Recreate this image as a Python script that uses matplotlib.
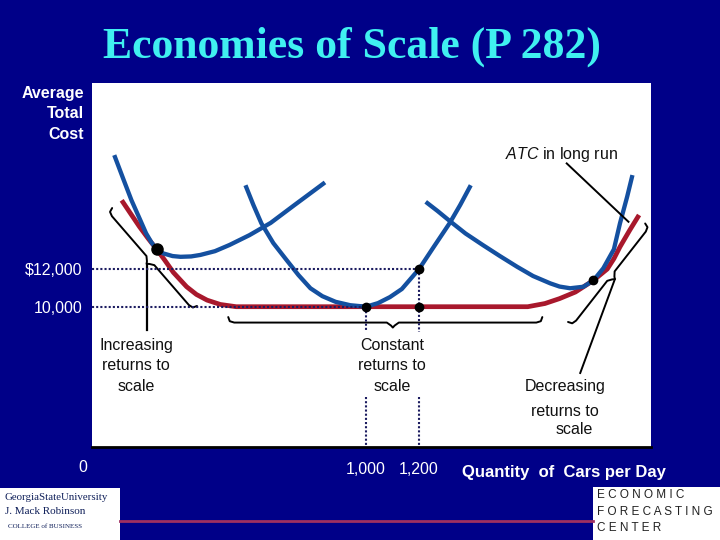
import numpy as np
import matplotlib.pyplot as plt
from matplotlib.patches import Rectangle
from matplotlib.lines import Line2D

plt.rcParams['font.family'] = 'Liberation Sans'
plt.rcParams['mathtext.fontset'] = 'custom'
plt.rcParams['mathtext.it'] = 'Liberation Sans:italic'
plt.rcParams['mathtext.rm'] = 'Liberation Sans'

# short-run ATC curves (cars per day, average total cost in $)
srac1_q = [50, 85, 115, 145, 170, 190, 210, 235, 270, 300, 340, 375, 430, 485, 560, 640, 730, 845]
srac1_c = [18050, 16750, 15650, 14700, 13900, 13420, 13050, 12830, 12690, 12650, 12670, 12750,
           12950, 13280, 13800, 14450, 15400, 16600]
srac2_q = [545, 575, 605, 650, 700, 745, 790, 835, 885, 940, 1000, 1045, 1090, 1135, 1200,
           1255, 1315, 1355, 1395]
srac2_c = [16450, 15400, 14430, 13380, 12480, 11680, 10980, 10560, 10260, 10080, 10000,
           10190, 10510, 10940, 12000, 13170, 14430, 15400, 16450]
srac3_q = [1225, 1270, 1315, 1375, 1440, 1505, 1570, 1630, 1695, 1730, 1770, 1820, 1858,
           1895, 1935, 1958, 1985, 2005]
srac3_c = [15570, 15080, 14560, 13890, 13280, 12690, 12120, 11630, 11240, 11070, 10980,
           11060, 11400, 12040, 13050, 14430, 15840, 16990]
# long-run ATC
lrac_q = [78, 110, 145, 178, 210, 240, 273, 323, 360, 400, 450, 510, 1610, 1675, 1730, 1790,
          1858, 1910, 1935, 1958, 1995, 2030]
lrac_c = [15650, 14980, 14250, 13620, 13050, 12480, 11820, 11060, 10650, 10350, 10120, 10000,
          10000, 10170, 10430, 10780, 11400, 12000, 12550, 13180, 14070, 14870]

# tangency points
dot_q = [1000, 1200, 1200, 1858]
dot_c = [10000, 12000, 10000, 11400]
big_dot_q = [210]
big_dot_c = [13050]

xtick_vals = [1000, 1200]
xtick_labels = ['1,000', '1,200']
ytick_vals = [10000, 12000]
ytick_labels = ['10,000', '$12,000']

NAVY = '#000088'
BLUE = '#1450a0'
RED = '#a8182c'
DOT_LINE = '#1c1c60'


def fx(x):
    return x / 720


def fy(y):
    return 1 - y / 540


def brace(ax, p0, p1, frac=0.5, h=5.5, tip=5.0, r=6.0):
    # curly brace between two data points, drawn in pixel space, tip on the clockwise side
    a = ax.transData.transform(p0)
    b = ax.transData.transform(p1)
    d = b - a
    u = d / np.hypot(*d)
    n = np.array([u[1], -u[0]])
    m = a + d * frac
    pts = [a,
           a + u * r * 0.25 + n * h * 0.75,
           a + u * r + n * h,
           m - u * r + n * h,
           m - u * r * 0.3 + n * (h + tip * 0.6),
           m + n * (h + tip),
           m + u * r * 0.3 + n * (h + tip * 0.6),
           m + u * r + n * h,
           b - u * r + n * h,
           b - u * r * 0.25 + n * h * 0.75,
           b]
    xy = ax.transData.inverted().transform(np.array(pts))
    ax.plot(xy[:, 0], xy[:, 1], color='black', lw=1.4, solid_joinstyle='round',
            solid_capstyle='round', clip_on=False, zorder=3)
    return xy[5]


fig = plt.figure(figsize=(7.2, 5.4), dpi=100, facecolor=NAVY)
ax = fig.add_axes([fx(92), fy(447), (651 - 92) / 720, (447 - 83) / 540])
ax.set_facecolor('white')
ax.set_xlim(-34, 2075)
ax.set_ylim(2550, 21880)
for s in ['top', 'left', 'right']:
    ax.spines[s].set_visible(False)
ax.spines['bottom'].set_color('black')
ax.spines['bottom'].set_linewidth(2)

ax.set_xticks(xtick_vals)
ax.set_xticklabels(xtick_labels)
ax.set_yticks(ytick_vals)
ax.set_yticklabels(ytick_labels)
ax.tick_params(axis='both', length=0, colors='white', labelsize=11.5)
ax.tick_params(axis='x', pad=11)
ax.tick_params(axis='y', pad=7)

# curves
for q, c in [(srac1_q, srac1_c), (srac2_q, srac2_c), (srac3_q, srac3_c)]:
    ax.plot(q, c, color=BLUE, lw=3.1, solid_capstyle='butt', solid_joinstyle='round', zorder=2)
ax.plot(lrac_q, lrac_c, color=RED, lw=3.4, solid_capstyle='butt', solid_joinstyle='round',
        zorder=1.9)

# dotted guides
x0 = ax.get_xlim()[0]
y0 = ax.get_ylim()[0]
gap_top, gap_bottom = 8670, 5220
ax.plot([x0, xtick_vals[1]], [ytick_vals[1]] * 2, color=DOT_LINE, lw=1.5,
        ls=(0, (1, 1)), zorder=4)
ax.plot([x0, xtick_vals[0]], [ytick_vals[0]] * 2, color=DOT_LINE, lw=1.5,
        ls=(0, (1, 1)), zorder=4)
for q, c in [(xtick_vals[0], ytick_vals[0]), (xtick_vals[1], ytick_vals[1])]:
    ax.plot([q, q], [c, gap_top], color=DOT_LINE, lw=1.5, ls=(0, (1, 1)), zorder=4)
    ax.plot([q, q], [gap_bottom, y0], color=DOT_LINE, lw=1.5, ls=(0, (1, 1)), zorder=4)

ax.plot(dot_q, dot_c, 'o', color='black', ms=6, zorder=5)
ax.plot(big_dot_q, big_dot_c, 'o', color='black', ms=8, zorder=5)

# braces and pointers
tip = brace(ax, (42, 15240), (362, 10040))
ax.plot([tip[0], tip[0]], [tip[1], 8760], color='black', lw=1.6, zorder=3)
brace(ax, (480, 9450), (1665, 9450), frac=0.524)
tip = brace(ax, (1762, 9190), (2053, 14420))
ax.plot([tip[0], 1808], [tip[1], 6480], color='black', lw=1.4, zorder=3, clip_on=False)
ax.plot([1757, 1990], [17610, 14510], color='black', lw=1.4, zorder=3)

# text inside the plot
fs = 11.5
fig.text(fx(136), fy(366), 'Increasing\nreturns to\nscale', ha='center', va='center',
         fontsize=fs, linespacing=1.45, color='#111111')
fig.text(fx(392), fy(366), 'Constant\nreturns to\nscale', ha='center', va='center',
         fontsize=fs, linespacing=1.45, color='#111111')
fig.text(fx(565), fy(386), 'Decreasing', ha='center', va='center', fontsize=fs, color='#111111')
fig.text(fx(565), fy(411), 'returns to', ha='center', va='center', fontsize=fs, color='#111111')
fig.text(fx(574), fy(430), 'scale', ha='center', va='center', fontsize=fs, color='#111111')
fig.text(fx(505), fy(154), r'$\mathit{ATC}$ in long run', ha='left', va='center',
         fontsize=fs, color='#111111')

# text on the slide
fig.text(fx(352), fy(47), 'Economies of Scale (P 282)', family='Liberation Serif',
         weight='bold', fontsize=31.5, color='#40f0f0', ha='center', va='center')
fig.text(fx(84), fy(114), 'Average\nTotal\nCost', ha='right', va='center', ma='right',
         fontsize=11.5, weight='bold', color='white', linespacing=1.45)
fig.text(fx(83), fy(467), '0', ha='center', va='center', fontsize=11.5, color='white')
fig.text(fx(462), fy(473), 'Quantity  of  Cars per Day', ha='left', va='center',
         fontsize=12, weight='bold', color='white')

# footer logos
fig.add_artist(Line2D([fx(120), fx(593)], [fy(521), fy(521)], color='#a03060', lw=2))
fig.patches.append(Rectangle((0, 0), fx(120), fy(488), transform=fig.transFigure,
                             facecolor='white', edgecolor='none'))
fig.patches.append(Rectangle((fx(593), 0), 1 - fx(593), fy(487), transform=fig.transFigure,
                             facecolor='white', edgecolor='none'))
fig.text(fx(56), fy(497), 'GeorgiaStateUniversity', family='Liberation Serif', fontsize=7.8,
         color='#10205a', ha='center', va='center')
fig.text(fx(45), fy(512), 'J. Mack Robinson', family='Liberation Serif', fontsize=8,
         color='#10205a', ha='center', va='center')
fig.text(fx(45), fy(527), 'COLLEGE of BUSINESS', family='Liberation Serif', fontsize=5,
         color='#10205a', ha='center', va='center')
fig.text(fx(597), fy(495), 'E C O N O M I C', fontsize=8.5, color='#222222', ha='left', va='center')
fig.text(fx(597), fy(512), 'F O R E C A S T I N G', fontsize=8.5, color='#222222', ha='left', va='center')
fig.text(fx(597), fy(528), 'C E N T E R', fontsize=8.5, color='#222222', ha='left', va='center')

fig.savefig('out.png', dpi=100, facecolor=NAVY)
